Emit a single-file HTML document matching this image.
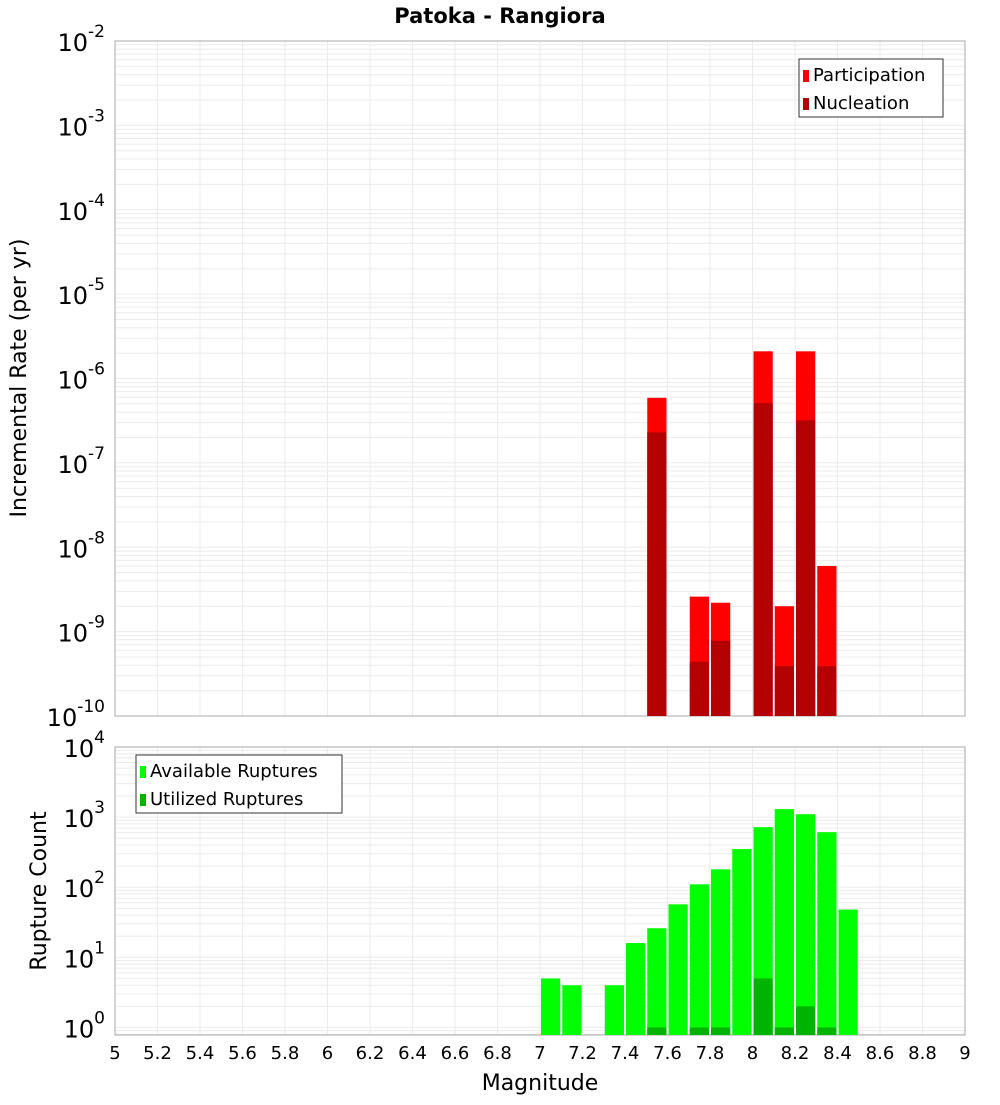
<!DOCTYPE html>
<html><head><meta charset="utf-8"><style>
body{margin:0;background:#fff;font-family:"Liberation Sans","DejaVu Sans",sans-serif}
svg text{font-family:"DejaVu Sans","Liberation Sans",sans-serif}
</style></head><body>
<svg id="c" width="1000" height="1100" xmlns="http://www.w3.org/2000/svg">
<text x="500" y="23" text-anchor="middle" font-size="21" font-weight="bold">Patoka - Rangiora</text>
</svg>
<script>
const mags = [7.05,7.15,7.35,7.45,7.55,7.65,7.75,7.85,7.95,8.05,8.15,8.25,8.35,8.45];
const partMags = [7.55,7.75,7.85,8.05,8.15,8.25,8.35];
const participation = [5.9e-7,2.6e-9,2.2e-9,2.1e-6,2.0e-9,2.1e-6,6.0e-9];
const nucleation = [2.3e-7,4.4e-10,7.8e-10,5.1e-7,3.9e-10,3.2e-7,3.9e-10];
const available = [5,4,4,16,26,57,110,180,350,720,1300,1100,610,48];
const utilMags = [7.55,7.75,7.85,8.05,8.15,8.25,8.35];
const utilized = [1,1,1,5,1,2,1];
const xTicks = [5,5.2,5.4,5.6,5.8,6,6.2,6.4,6.6,6.8,7,7.2,7.4,7.6,7.8,8,8.2,8.4,8.6,8.8,9];

const NS='http://www.w3.org/2000/svg';
const svg=document.getElementById('c');
function mk(tag,attrs,parent){const e=document.createElementNS(NS,tag);for(const k in attrs)e.setAttribute(k,attrs[k]);(parent||svg).appendChild(e);return e;}
const X0=115,X1=965;
const x=m=>X0+(m-5)/4*(X1-X0);
const bw=0.1*(X1-X0)/4;
const pTop={y0:41,y1:716,lmin:-10,lmax:-2};
const pBot={y0:747,y1:1035,lmin:Math.log10(0.78),lmax:4};
function yf(p,v){return p.y1-(Math.log10(v)-p.lmin)/(p.lmax-p.lmin)*(p.y1-p.y0);}

function grid(p,name){
  const g=mk('g',{});
  
  
  xTicks.forEach(t=>mk('line',{x1:x(t),x2:x(t),y1:p.y0,y2:p.y1,stroke:'#ebebeb','stroke-width':1},g));
  for(let d=Math.floor(p.lmin);d<p.lmax;d++){for(let k=1;k<10;k++){const v=k*Math.pow(10,d);const lv=Math.log10(v);if(lv<p.lmin||lv>p.lmax)continue;const yy=yf(p,v);mk('line',{x1:X0,x2:X1,y1:yy,y2:yy,stroke:'#ebebeb','stroke-width':1},g);}}
  const r=mk('rect',{x:X0,y:p.y0,width:X1-X0,height:p.y1-p.y0,fill:'none',stroke:'#aaa','stroke-width':1});
  
  
}
function ylabels(p,decs,name){
  decs.forEach(d=>{const yy=yf(p,Math.pow(10,d));
    const t=mk('text',{x:105,y:yy+10,'text-anchor':'end','font-size':24});
    
    
    t.textContent='10';
    const s=mk('tspan',{dy:-14,'font-size':17},t);s.textContent=String(d);
  });
}
function bar(p,m,v,color,name){
  const yy=yf(p,v);
  const r=mk('rect',{x:x(m-0.05)+1,y:yy,width:bw-2,height:p.y1-yy,fill:color});
  
  
}
grid(pTop,'rate');grid(pBot,'count');
ylabels(pTop,[-2,-3,-4,-5,-6,-7,-8,-9,-10],'rate');
ylabels(pBot,[4,3,2,1,0],'count');
partMags.forEach((m,i)=>bar(pTop,m,participation[i],'#ff0000','participation-bar'));
partMags.forEach((m,i)=>bar(pTop,m,nucleation[i],'#b30000','nucleation-bar'));
mags.forEach((m,i)=>bar(pBot,m,available[i],'#00ff00','available-bar'));
utilMags.forEach((m,i)=>bar(pBot,m,utilized[i],'#00b300','utilized-bar'));
xTicks.forEach(t=>{const e=mk('text',{x:x(t),y:1059,'text-anchor':'middle','font-size':18});
  
  
  e.textContent=String(t);});
function label(txt,xx,yy,rot,name){const e=mk('text',{x:xx,y:yy,'text-anchor':'middle','font-size':22});
  if(rot)e.setAttribute('transform',`rotate(-90 ${xx} ${yy})`);
  
  
  e.textContent=txt;}
label('Magnitude',540,1090,false,'x-axis-title');
label('Incremental Rate (per yr)',26,378,true,'rate-y-axis-title');
label('Rupture Count',46,891,true,'count-y-axis-title');
function legend(lx,ly,w,items,name){
  const g=mk('g',{});
  
  
  mk('rect',{x:lx,y:ly,width:w,height:58,fill:'#fff',stroke:'#333','stroke-width':1},g);
  items.forEach((it,i)=>{mk('rect',{x:lx+4,y:ly+11+i*28,width:6,height:12,fill:it[1]},g);
    const t=mk('text',{x:lx+14,y:ly+22+i*28,'font-size':18},g);
    
    
    t.textContent=it[0];});
}
legend(799,59,144,[['Participation','#ff0000'],['Nucleation','#b30000']],'rate-legend');
legend(136,755,206,[['Available Ruptures','#00ff00'],['Utilized Ruptures','#00b300']],'count-legend');
</script>
</body></html>
